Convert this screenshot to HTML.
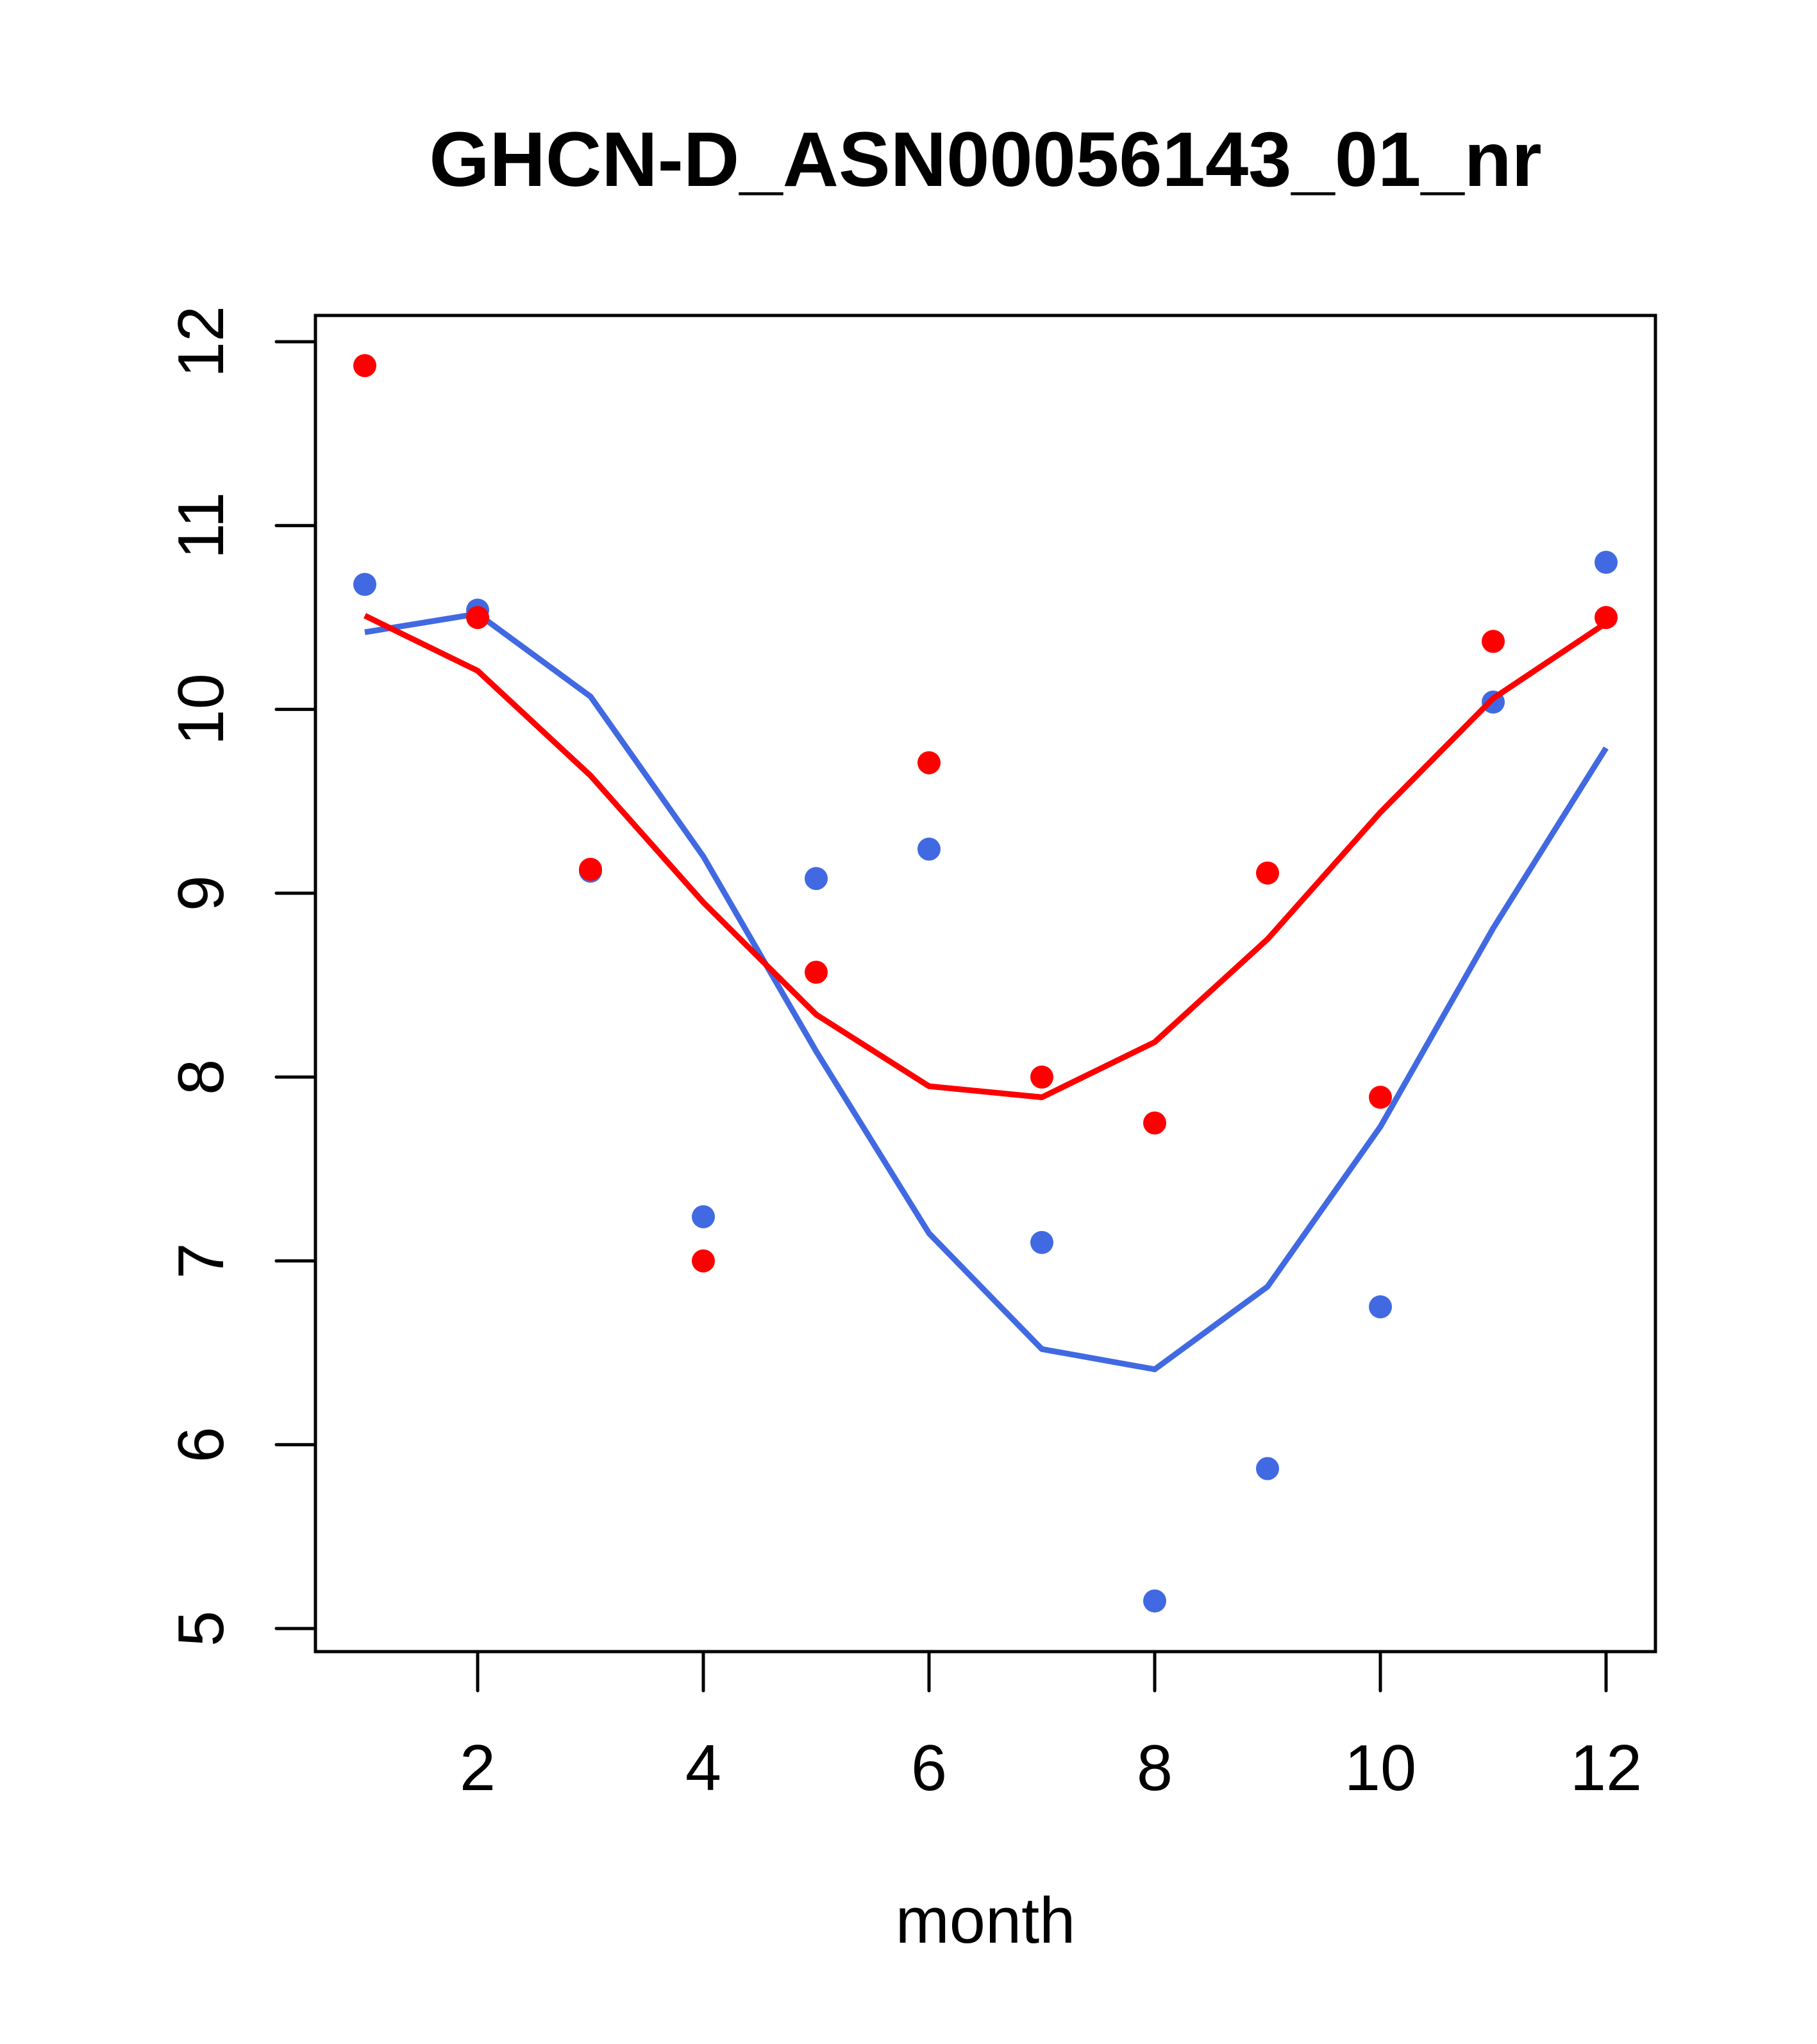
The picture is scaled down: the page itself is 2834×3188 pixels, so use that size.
<!DOCTYPE html>
<html><head><meta charset="utf-8"><style>
html,body{margin:0;padding:0;background:#fff;}
svg{display:block;font-family:"Liberation Sans",sans-serif;}
</style></head><body>
<svg id="chart" width="2834" height="3188" viewBox="0 0 2834 3188" xmlns="http://www.w3.org/2000/svg">
<rect width="2834" height="3188" fill="#fff"/>
<text x="1537" y="290" font-size="121" font-weight="bold" text-anchor="middle">GHCN-D_ASN00056143_01_nr</text>
<text x="1537" y="3030" font-size="101" text-anchor="middle">month</text>
<g id="marks"></g>
<rect x="492" y="492" width="2090" height="2084" fill="none" stroke="#000" stroke-width="5"/>
<g id="axes"></g>
</svg>
<script>
const months = [1,2,3,4,5,6,7,8,9,10,11,12];
const redPoints = [11.87,10.5,9.13,7.0,8.57,9.71,8.0,7.75,9.11,7.89,10.37,10.5];
const bluePoints = [10.68,10.54,9.12,7.24,9.08,9.24,7.10,5.15,5.87,6.75,10.04,10.80];
const redLine = [10.51,10.21,9.64,8.95,8.34,7.95,7.89,8.19,8.75,9.44,10.06,10.47];
const blueLine = [10.42,10.52,10.07,9.2,8.14,7.15,6.52,6.41,6.86,7.73,8.81,9.79];
const xTicks = [2,4,6,8,10,12];
const yTicks = [5,6,7,8,9,10,11,12];

const NS = "http://www.w3.org/2000/svg";
function xs(v){ return 569 + (v-1)*(2505-569)/11; }
function ys(v){ return 533 + (12-v)*(2540-533)/7; }
const marks = document.getElementById('marks');
const axes = document.getElementById('axes');
function mk(tag, attrs, parent){
  const e = document.createElementNS(NS, tag);
  for (const k in attrs) e.setAttribute(k, attrs[k]);
  parent.appendChild(e);
  return e;
}
function line(vals, color, name){
  const p = mk('polyline', {points: vals.map((v,i)=>xs(months[i])+','+ys(v)).join(' '), fill:'none', stroke:color, 'stroke-width':9, 'stroke-linejoin':'round'}, marks);
  
  
}
function pts(vals, color, name){
  vals.forEach((v,i)=>{
    const c = mk('circle', {cx:xs(months[i]), cy:ys(v), r:18, fill:color}, marks);
    
    
  });
}
line(blueLine, '#4169e1', 'blue-series-line');
pts(bluePoints, '#4169e1', 'blue-point');
line(redLine, '#ff0000', 'red-series-line');
pts(redPoints, '#ff0000', 'red-point');

xTicks.forEach(t=>{
  const l = mk('line', {x1:xs(t), x2:xs(t), y1:2576, y2:2637, stroke:'#000', 'stroke-width':5, 'stroke-linecap':'round'}, axes);
  
  
  const tx = mk('text', {x:xs(t), y:2792, 'font-size':101, 'text-anchor':'middle'}, axes);
  tx.textContent = t;
  
  
});
yTicks.forEach(t=>{
  const l = mk('line', {x1:431, x2:492, y1:ys(t), y2:ys(t), stroke:'#000', 'stroke-width':5, 'stroke-linecap':'round'}, axes);
  
  
  const tx = mk('text', {x:0, y:0, 'font-size':101, 'text-anchor':'middle', transform:'translate(348,'+ys(t)+') rotate(-90)'}, axes);
  tx.textContent = t;
  
  
});
</script>
</body></html>
